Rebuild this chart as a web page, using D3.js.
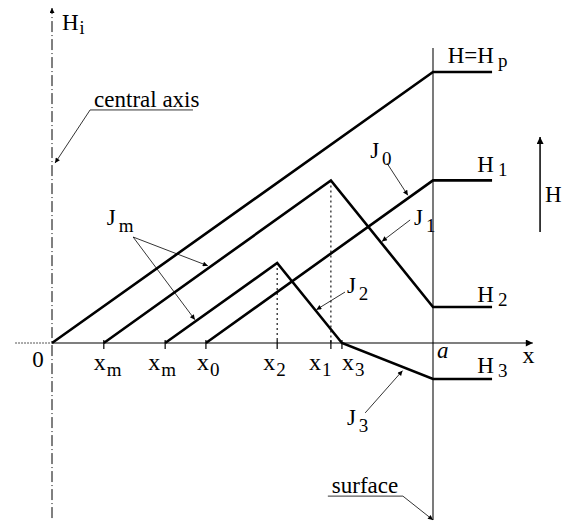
<!DOCTYPE html>
<html>
<head>
<meta charset="utf-8">
<script src="https://cdn.jsdelivr.net/npm/d3@7"></script>
<style>
body { margin: 0; background: #fff; }
text { font-family: "Liberation Serif", "Times New Roman", serif; fill: #000; }
</style>
</head>
<body>
<div id="canvas"></div>
<script>
const w = 567;
const h = 525;

// x along the radius: 0 = central axis, 100 = surface (a)
const tickVals = [13.6, 29.7, 40.4, 59.1, 73.2, 76.1];
const tickSubs = ["m", "m", "0", "2", "1", "3"];

// field profiles, pairs [x, H]; H = 100 is H_p
const profileHp = [[0, 0], [100, 100], [115.5, 100]];
const profileH1 = [[40.4, 0], [100, 60], [115.5, 60]];
const profileH2 = [[13.6, 0], [73.2, 60], [100, 13.3], [115.5, 13.3]];
const profileH3 = [[29.7, 0], [59.1, 29.5], [76.1, 0], [100, -13.3], [115.5, -13.3]];
const profiles = [profileHp, profileH1, profileH2, profileH3];

const levelVals = [100, 60, 13.3, -13.3];
const levelNames = ["H=H", "H", "H", "H"];
const levelSubs = ["p", "1", "2", "3"];

// peaks that get a dotted drop line to the axis
const peaks = [[73.2, 60], [59.1, 29.5]];

// current density labels J and their leader arrows
const jSubs = ["m", "0", "1", "2", "3"];
const jSpots = [[14.4, 43.5], [83.5, 68.3], [95.0, 43.5], [77.4, 18.5], [77.4, -30.3]];
const jLeaders = [
  [[21.3, 39.1], [40.9, 28.5]],
  [[21.3, 39.1], [37.5, 8.6]],
  [[87.9, 66.4], [93.4, 54.5]],
  [[94.0, 45.4], [86.6, 37.5]],
  [[76.9, 18.8], [69.4, 12.3]],
  [[82.2, -25.8], [92.0, -10.2]]
];

// call-outs with an underline and a bent leader
const callouts = [
  {text: "central axis", pts: [[37.0, 86.0], [10.0, 86.0], [0.8, 66.4]]},
  {text: "surface", pts: [[72.4, -56.5], [92.1, -56.5], [100, -65.3]]}
];

let x = d3.scaleLinear().domain([0, 100]).range([52, 433]);
let y = d3.scaleLinear().domain([0, 100]).range([343, 72]);

let svg = d3.select("#canvas").append("svg").attr("width", w).attr("height", h);

let defs = svg.append("defs");
defs.append("marker").attr("id", "tip")
  .attr("viewBox", "0 0 10 10").attr("refX", 10).attr("refY", 5)
  .attr("markerUnits", "userSpaceOnUse").attr("markerWidth", 9).attr("markerHeight", 5)
  .attr("orient", "auto")
  .append("path").attr("d", "M0,0 L10,5 L0,10 z").attr("fill", "#000");
defs.append("marker").attr("id", "bigtip")
  .attr("viewBox", "0 0 10 10").attr("refX", 10).attr("refY", 5)
  .attr("markerUnits", "userSpaceOnUse").attr("markerWidth", 16).attr("markerHeight", 7)
  .attr("orient", "auto")
  .append("path").attr("d", "M0,0 L10,5 L0,10 z").attr("fill", "#000");

let line = d3.line().x((d) => x(d[0])).y((d) => y(d[1]));

// central axis (dash-dot) with arrow on top
svg.append("line")
  .attr("x1", x(0)).attr("x2", x(0)).attr("y1", y(-64.6)).attr("y2", y(123.6))
  .attr("stroke", "#000").attr("stroke-width", 1)
  .attr("stroke-dasharray", "11,3,1,3")
  .attr("marker-end", "url(#tip)");

// surface
svg.append("line")
  .attr("x1", x(100)).attr("x2", x(100)).attr("y1", y(-65.3)).attr("y2", y(108.9))
  .attr("stroke", "#222").attr("stroke-width", 1.2);

// x axis
svg.append("line")
  .attr("x1", x(-9.7)).attr("x2", x(0)).attr("y1", y(0)).attr("y2", y(0))
  .attr("stroke", "#555").attr("stroke-width", 1).attr("stroke-dasharray", "2,1");
svg.append("line")
  .attr("x1", x(0)).attr("x2", x(126.2)).attr("y1", y(0)).attr("y2", y(0))
  .attr("stroke", "#000").attr("stroke-width", 1.2)
  .attr("marker-end", "url(#bigtip)");

svg.selectAll(".tick").data(tickVals).enter().append("line").attr("class", "tick")
  .attr("x1", (d) => x(d)).attr("x2", (d) => x(d))
  .attr("y1", y(0) - 3).attr("y2", y(0) + 6)
  .attr("stroke", "#000").attr("stroke-width", 1.2);

// dotted drops from the peaks
svg.selectAll(".drop").data(peaks).enter().append("line").attr("class", "drop")
  .attr("x1", (d) => x(d[0])).attr("x2", (d) => x(d[0]))
  .attr("y1", (d) => y(d[1])).attr("y2", y(0))
  .attr("stroke", "#000").attr("stroke-width", 1.1).attr("stroke-dasharray", "2,3");

// profiles
svg.selectAll(".profile").data(profiles).enter().append("path").attr("class", "profile")
  .attr("d", line).attr("fill", "none")
  .attr("stroke", "#000").attr("stroke-width", 2.6).attr("stroke-linejoin", "miter");

// leaders for J
svg.selectAll(".lead").data(jLeaders).enter().append("path").attr("class", "lead")
  .attr("d", line).attr("fill", "none")
  .attr("stroke", "#000").attr("stroke-width", 0.8)
  .attr("marker-end", "url(#tip)");

function subLabel(px, py, main, sub, subDx, subDy, size, subSize) {
  let t = svg.append("text").attr("x", px).attr("y", py).attr("font-size", size);
  t.append("tspan").text(main);
  t.append("tspan").attr("dx", subDx).attr("dy", subDy)
    .attr("font-size", subSize).text(sub);
  return t;
}

// J labels
jSpots.forEach((p, i) => {
  subLabel(x(p[0]), y(p[1]), "J", jSubs[i], 3, 7, 23, 19);
});

// tick labels
svg.append("text").attr("x", x(0) - 14).attr("y", y(0) + 24)
  .attr("font-size", 23).attr("text-anchor", "middle").text("0");
const tickShift = [-10, -17, -9, -14, -22, 0];
tickVals.forEach((v, i) => {
  subLabel(x(v) + tickShift[i], y(0) + 27, "x", tickSubs[i], 1, 6, 24, 19);
});
svg.append("text").attr("x", x(100) + 4).attr("y", y(0) + 15)
  .attr("font-size", 23).attr("font-style", "italic").text("a");
svg.append("text").attr("x", x(123.5)).attr("y", y(0) + 20)
  .attr("font-size", 24).text("x");

// level labels at the right
const levelLift = [9, 8, 5, 6];
levelVals.forEach((v, i) => {
  svg.append("text").attr("x", x(116)).attr("y", y(v) - levelLift[i])
    .attr("font-size", 23).attr("text-anchor", "end").text(levelNames[i]);
  svg.append("text").attr("x", x(116) + 4).attr("y", y(v) - levelLift[i] + 4)
    .attr("font-size", 19).text(levelSubs[i]);
});

// H_i on top of the central axis
subLabel(x(2.6), 30, "H", "i", 1, 4, 23, 18);

// direction arrow H
svg.append("line")
  .attr("x1", x(128.1)).attr("x2", x(128.1)).attr("y1", y(41)).attr("y2", y(76))
  .attr("stroke", "#000").attr("stroke-width", 1.5)
  .attr("marker-end", "url(#bigtip)");
svg.append("text").attr("x", x(129.4)).attr("y", y(52))
  .attr("font-size", 23).text("H");

// call-outs
callouts.forEach((c) => {
  svg.append("path").datum(c.pts).attr("d", line).attr("fill", "none")
    .attr("stroke", "#000").attr("stroke-width", 0.8)
    .attr("marker-end", "url(#tip)");
  let left = Math.min(c.pts[0][0], c.pts[1][0]);
  svg.append("text").attr("x", x(left) + 4).attr("y", y(c.pts[0][1]) - 3)
    .attr("font-size", 23).text(c.text);
});
</script>
</body>
</html>
